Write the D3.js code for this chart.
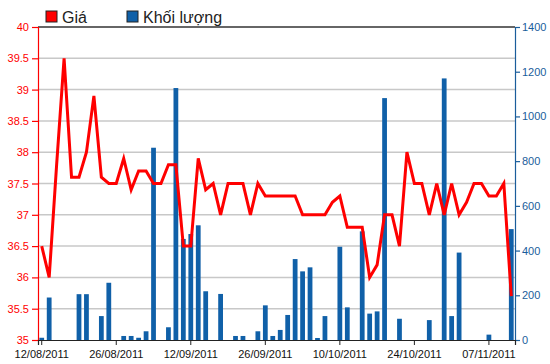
<!DOCTYPE html>
<html>
<head>
<meta charset="utf-8">
<script src="https://cdn.jsdelivr.net/npm/d3@7"></script>
<style>
  body { margin: 0; background: #fff; }
  svg { font-family: "Liberation Sans", Arial, sans-serif; }
  .grid line { stroke: #c8c8c8; stroke-width: 1.5; }
</style>
</head>
<body>
<svg id="chart" width="550" height="364"></svg>
<script>
// price per session (Giá)
var prices = [
  36.5, 36.0, 37.8, 39.5, 37.6, 37.6, 38.0, 38.9, 37.6, 37.5,
  37.5, 37.9, 37.4, 37.7, 37.7, 37.5, 37.5, 37.8, 37.8, 36.5,
  36.5, 37.9, 37.4, 37.5, 37.0, 37.5, 37.5, 37.5, 37.0, 37.5,
  37.3, 37.3, 37.3, 37.3, 37.3, 37.0, 37.0, 37.0, 37.0, 37.2,
  37.3, 36.8, 36.8, 36.8, 36.0, 36.2, 37.0, 37.0, 36.5, 38.0,
  37.5, 37.5, 37.0, 37.5, 37.0, 37.5, 37.0, 37.2, 37.5, 37.5,
  37.3, 37.3, 37.5, 35.7
];

// volume per session (Khối lượng)
var volumes = [
  10, 190, 0, 0, 0, 205, 205, 0, 107, 256,
  0, 18, 18, 10, 39, 860, 0, 57, 1127, 452,
  474, 513, 218, 0, 206, 0, 18, 18, 0, 39,
  155, 18, 45, 112, 362, 307, 325, 9, 107, 0,
  417, 146, 0, 486, 118, 128, 1082, 0, 95, 0,
  0, 0, 89, 0, 1170, 107, 391, 0, 0, 0,
  24, 0, 0, 496
];

var tickLabels = ['12/08/2011', '26/08/2011', '12/09/2011', '26/09/2011',
  '10/10/2011', '24/10/2011', '07/11/2011'];
const tickEvery = 10;

var legendItems = [
  { name: 'Giá', color: '#ff0000' },
  { name: 'Khối lượng', color: '#1060a8' }
];

const plotLeft = 38, plotRight = 515, plotTop = 27, plotBottom = 340;
const red = '#ff0000', blue = '#1060a8', axisBlue = '#1a5d9b';

var svg = d3.select('#chart');

var x = d3.scaleBand()
  .domain(d3.range(prices.length))
  .range([plotLeft, plotRight])
  .paddingInner(0.36)
  .paddingOuter(0.18);

var xc = i => x(i) + x.bandwidth() / 2;

var yPrice = d3.scaleLinear().domain([35, 40]).range([plotBottom, plotTop]);
var yVol = d3.scaleLinear().domain([0, 1400]).range([plotBottom, plotTop]);

// gridlines
svg.append('g')
  .classed('grid', true)
  .selectAll('line')
  .data(d3.range(35.5, 39.6, 0.5))
  .join('line')
  .attr('x1', plotLeft)
  .attr('x2', plotRight)
  .attr('y1', d => yPrice(d))
  .attr('y2', d => yPrice(d));

// top border
svg.append('line')
  .attr('x1', plotLeft).attr('x2', plotRight)
  .attr('y1', plotTop).attr('y2', plotTop)
  .attr('stroke', '#333').attr('stroke-width', 1.5);

// volume bars
svg.append('g')
  .selectAll('rect')
  .data(volumes)
  .join('rect')
  .attr('x', (d, i) => x(i))
  .attr('width', x.bandwidth())
  .attr('y', d => yVol(d))
  .attr('height', d => plotBottom - yVol(d))
  .attr('fill', blue);

// price line
svg.append('path')
  .datum(prices)
  .attr('fill', 'none')
  .attr('stroke', red)
  .attr('stroke-width', 3)
  .attr('d', d3.line().x((d, i) => xc(i)).y(d => yPrice(d)));

// left axis
var axL = svg.append('g')
  .attr('transform', `translate(${plotLeft},0)`)
  .call(d3.axisLeft(yPrice)
    .tickValues(d3.range(35, 40.01, 0.5))
    .tickFormat(d => String(+d.toFixed(1)))
    .tickSize(6)
    .tickPadding(3));
axL.selectAll('path, line').attr('stroke', red).attr('stroke-width', 1.2);
axL.selectAll('text').attr('fill', red).style('font-size', '11px');

// right axis
var axR = svg.append('g')
  .attr('transform', `translate(${plotRight},0)`)
  .call(d3.axisRight(yVol)
    .tickValues(d3.range(0, 1401, 200))
    .tickFormat(d3.format('d'))
    .tickSize(5)
    .tickPadding(2));
axR.selectAll('path, line').attr('stroke', axisBlue).attr('stroke-width', 1.2);
axR.selectAll('text').attr('fill', axisBlue).style('font-size', '11px');

// bottom axis
var axB = svg.append('g')
  .attr('transform', `translate(0,${plotBottom})`)
  .call(d3.axisBottom(x)
    .tickValues(tickLabels.map((d, k) => k * tickEvery))
    .tickFormat(i => tickLabels[i / tickEvery])
    .tickSize(5)
    .tickPadding(5));
axB.select('.domain').attr('stroke', '#222').attr('stroke-width', 1.2);
axB.selectAll('line').attr('stroke', '#222');
axB.selectAll('text').attr('fill', '#111').style('font-size', '11px');

// legend
var legend = svg.append('g').attr('transform', 'translate(46,11)');
var item = legend.selectAll('g')
  .data(legendItems)
  .join('g')
  .attr('transform', (d, i) => `translate(${i * 81},0)`);
item.append('rect')
  .attr('width', 11).attr('height', 11)
  .attr('fill', d => d.color)
  .attr('stroke', '#222').attr('stroke-width', 1);
item.append('text')
  .attr('x', 16).attr('y', 12)
  .style('font-size', '16px')
  .attr('fill', '#222')
  .text(d => d.name);
</script>
</body>
</html>
